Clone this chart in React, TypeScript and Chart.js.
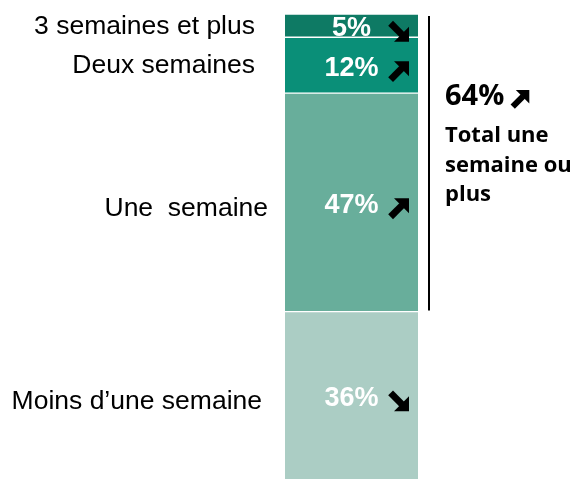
import { useEffect, useRef } from "react";
import { Chart, registerables } from "chart.js";

Chart.register(...registerables);

// ---- data (bottom to top) ----
const categories = ["Moins d’une semaine", "Une  semaine", "Deux semaines", "3 semaines et plus"];
const values = [36, 47, 12, 5];
const trends = ["down", "up", "up", "down"];
const colors = ["#abcdc4", "#68ae9b", "#0a8f78", "#0e7a64"];
const totalValue = 64;
const totalTrend = "up";
const totalLines = ["Total une", "semaine ou", "plus"];
const totalGroup = [1, 2, 3]; // indices of the categories in the bracket

function drawArrow(ctx: CanvasRenderingContext2D, cx: number, cy: number, s: number, dir: string) {
  const up = dir === "up";
  const tipX = cx + s / 2;
  const tipY = up ? cy - s / 2 : cy + s / 2;
  const tailX = cx - s / 2 + s * 0.08;
  const tailY = up ? cy + s / 2 - s * 0.08 : cy - s / 2 + s * 0.08;
  const h = s * 0.75;
  ctx.save();
  ctx.fillStyle = "#000";
  ctx.strokeStyle = "#000";
  ctx.beginPath();
  ctx.moveTo(tipX, tipY);
  ctx.lineTo(tipX - h, tipY);
  ctx.lineTo(tipX, up ? tipY + h : tipY - h);
  ctx.closePath();
  ctx.fill();
  ctx.lineWidth = s * 0.34;
  ctx.lineCap = "butt";
  ctx.beginPath();
  ctx.moveTo(tailX, tailY);
  ctx.lineTo(cx + s * 0.15, up ? cy - s * 0.15 : cy + s * 0.15);
  ctx.stroke();
  ctx.restore();
}

const labelGap = [23, 17, 30, 30];
const labelDy = [6, 6, 1, 1];

const overlayPlugin = {
  id: "overlay",
  afterDatasetsDraw(chart: any) {
    const ctx: CanvasRenderingContext2D = chart.ctx;
    const bars = categories.map((_, i) => {
      const el = chart.getDatasetMeta(i).data[0];
      return el.getProps(["x", "y", "base", "width"], true);
    });
    ctx.save();
    bars.forEach((b: any, i: number) => {
      const center = (b.y + b.base) / 2;
      const left = b.x - b.width / 2;
      const right = b.x + b.width / 2;
      // category label
      ctx.font = "26.5px 'Liberation Sans', Arial, sans-serif";
      ctx.fillStyle = "#000";
      ctx.textAlign = "right";
      ctx.textBaseline = "middle";
      ctx.fillText(categories[i], left - labelGap[i], center + labelDy[i]);
      // value label
      ctx.font = "bold 27px 'Liberation Sans', Arial, sans-serif";
      ctx.fillStyle = "#ffffff";
      ctx.textAlign = "center";
      ctx.fillText(values[i] + "%", b.x, center + 3);
      drawArrow(ctx, right - 19, center + 6, 20, trends[i]);
    });
    // bracket
    const topBar: any = bars[totalGroup[totalGroup.length - 1]];
    const botBar: any = bars[totalGroup[0]];
    const lineX = topBar.x + topBar.width / 2 + 11;
    ctx.strokeStyle = "#000";
    ctx.lineWidth = 2;
    ctx.beginPath();
    ctx.moveTo(lineX, topBar.y + 2);
    ctx.lineTo(lineX, botBar.base - 1);
    ctx.stroke();
    // total text
    const tx = lineX + 16;
    ctx.fillStyle = "#000";
    ctx.textAlign = "left";
    ctx.textBaseline = "alphabetic";
    ctx.font = "bold 29px 'Open Sans', sans-serif";
    const tStr = totalValue + "%";
    ctx.fillText(tStr, tx, 105);
    const w = ctx.measureText(tStr).width;
    drawArrow(ctx, tx + w + 16, 99, 18, totalTrend);
    ctx.font = "bold 22px 'Open Sans', sans-serif";
    const baselines = [142, 172, 201];
    totalLines.forEach((t, k) => ctx.fillText(t, tx, baselines[k]));
    ctx.restore();
  },
};

export default function App() {
  const ref = useRef<HTMLCanvasElement>(null);
  useEffect(() => {
    document.body.style.margin = "0";
    const canvas = ref.current!;
    const chart = new Chart(canvas, {
      type: "bar",
      data: {
        labels: [""],
        datasets: categories.map((c, i) => ({
          label: c,
          data: [values[i]],
          backgroundColor: colors[i],
          borderColor: "#ffffff",
          borderWidth: { top: 1, bottom: i === 0 ? 0 : 1, left: 0, right: 0 },
          borderSkipped: false,
          barPercentage: 1,
          categoryPercentage: 1,
        })),
      },
      options: {
        responsive: false,
        animation: false,
        layout: { padding: { left: 285, right: 157, top: 14, bottom: 0 } },
        scales: {
          x: { display: false, stacked: true },
          y: { display: false, stacked: true, min: 0, max: 100 },
        },
        plugins: { legend: { display: false }, tooltip: { enabled: false } },
      },
      plugins: [overlayPlugin],
    } as any);
    return () => chart.destroy();
  }, []);
  return <canvas ref={ref} width={575} height={479} style={{ display: "block" }} />;
}
